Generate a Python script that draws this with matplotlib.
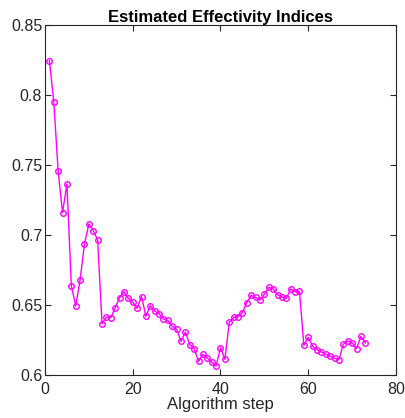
import matplotlib
matplotlib.use("Agg")
import matplotlib.pyplot as plt

plt.rcParams['font.family'] = ['Liberation Sans', 'DejaVu Sans']

steps = list(range(1, 74))
effectivity = [
    0.8245, 0.7952, 0.7455, 0.7160, 0.7365, 0.6638, 0.6493, 0.6680, 0.6938, 0.7079,
    0.7031, 0.6964, 0.6366, 0.6414, 0.6410, 0.6480, 0.6552, 0.6595, 0.6548, 0.6520,
    0.6476, 0.6560, 0.6420, 0.6495, 0.6457, 0.6438, 0.6400, 0.6390, 0.6348, 0.6326,
    0.6240, 0.6307, 0.6217, 0.6188, 0.6098, 0.6148, 0.6120, 0.6093, 0.6064, 0.6195,
    0.6112, 0.6376, 0.6412, 0.6417, 0.6446, 0.6517, 0.6569, 0.6555, 0.6536, 0.6576,
    0.6626, 0.6616, 0.6574, 0.6557, 0.6548, 0.6614, 0.6595, 0.6598, 0.6212, 0.6269,
    0.6205, 0.6181, 0.6164, 0.6148, 0.6134, 0.6120, 0.6110, 0.6220, 0.6243, 0.6229,
    0.6188, 0.6276, 0.6230,
]
xticks = [0, 20, 40, 60, 80]
yticks = [0.6, 0.65, 0.7, 0.75, 0.8, 0.85]
yticklabels = ['0.6', '0.65', '0.7', '0.75', '0.8', '0.85']

fig = plt.figure(figsize=(4.06, 4.18), dpi=100)
ax = fig.add_axes([45/406, 43/418, 351/406, 350/418])
ax.plot(steps, effectivity, color='#ff00ff', linewidth=1.0, marker='o',
        markersize=4, markerfacecolor='none', markeredgecolor='#ff00ff', markeredgewidth=1.0)
ax.set_xlim(0, 80)
ax.set_ylim(0.6, 0.85)
ax.set_xticks(xticks)
ax.set_yticks(yticks)
ax.set_yticklabels(yticklabels)
ax.tick_params(direction='in', top=True, right=True, labelsize=11.5, length=4, width=0.8, colors='#262626', pad=2)
ax.tick_params(axis='x', pad=5)
for s in ax.spines.values():
    s.set_color('#262626')
    s.set_linewidth(0.8)
ax.set_xlabel('Algorithm step', fontsize=12, color='#262626', labelpad=0)
ax.set_title('Estimated Effectivity Indices', fontsize=12, fontweight='bold', pad=2)
fig.savefig('out.png', dpi=100)
